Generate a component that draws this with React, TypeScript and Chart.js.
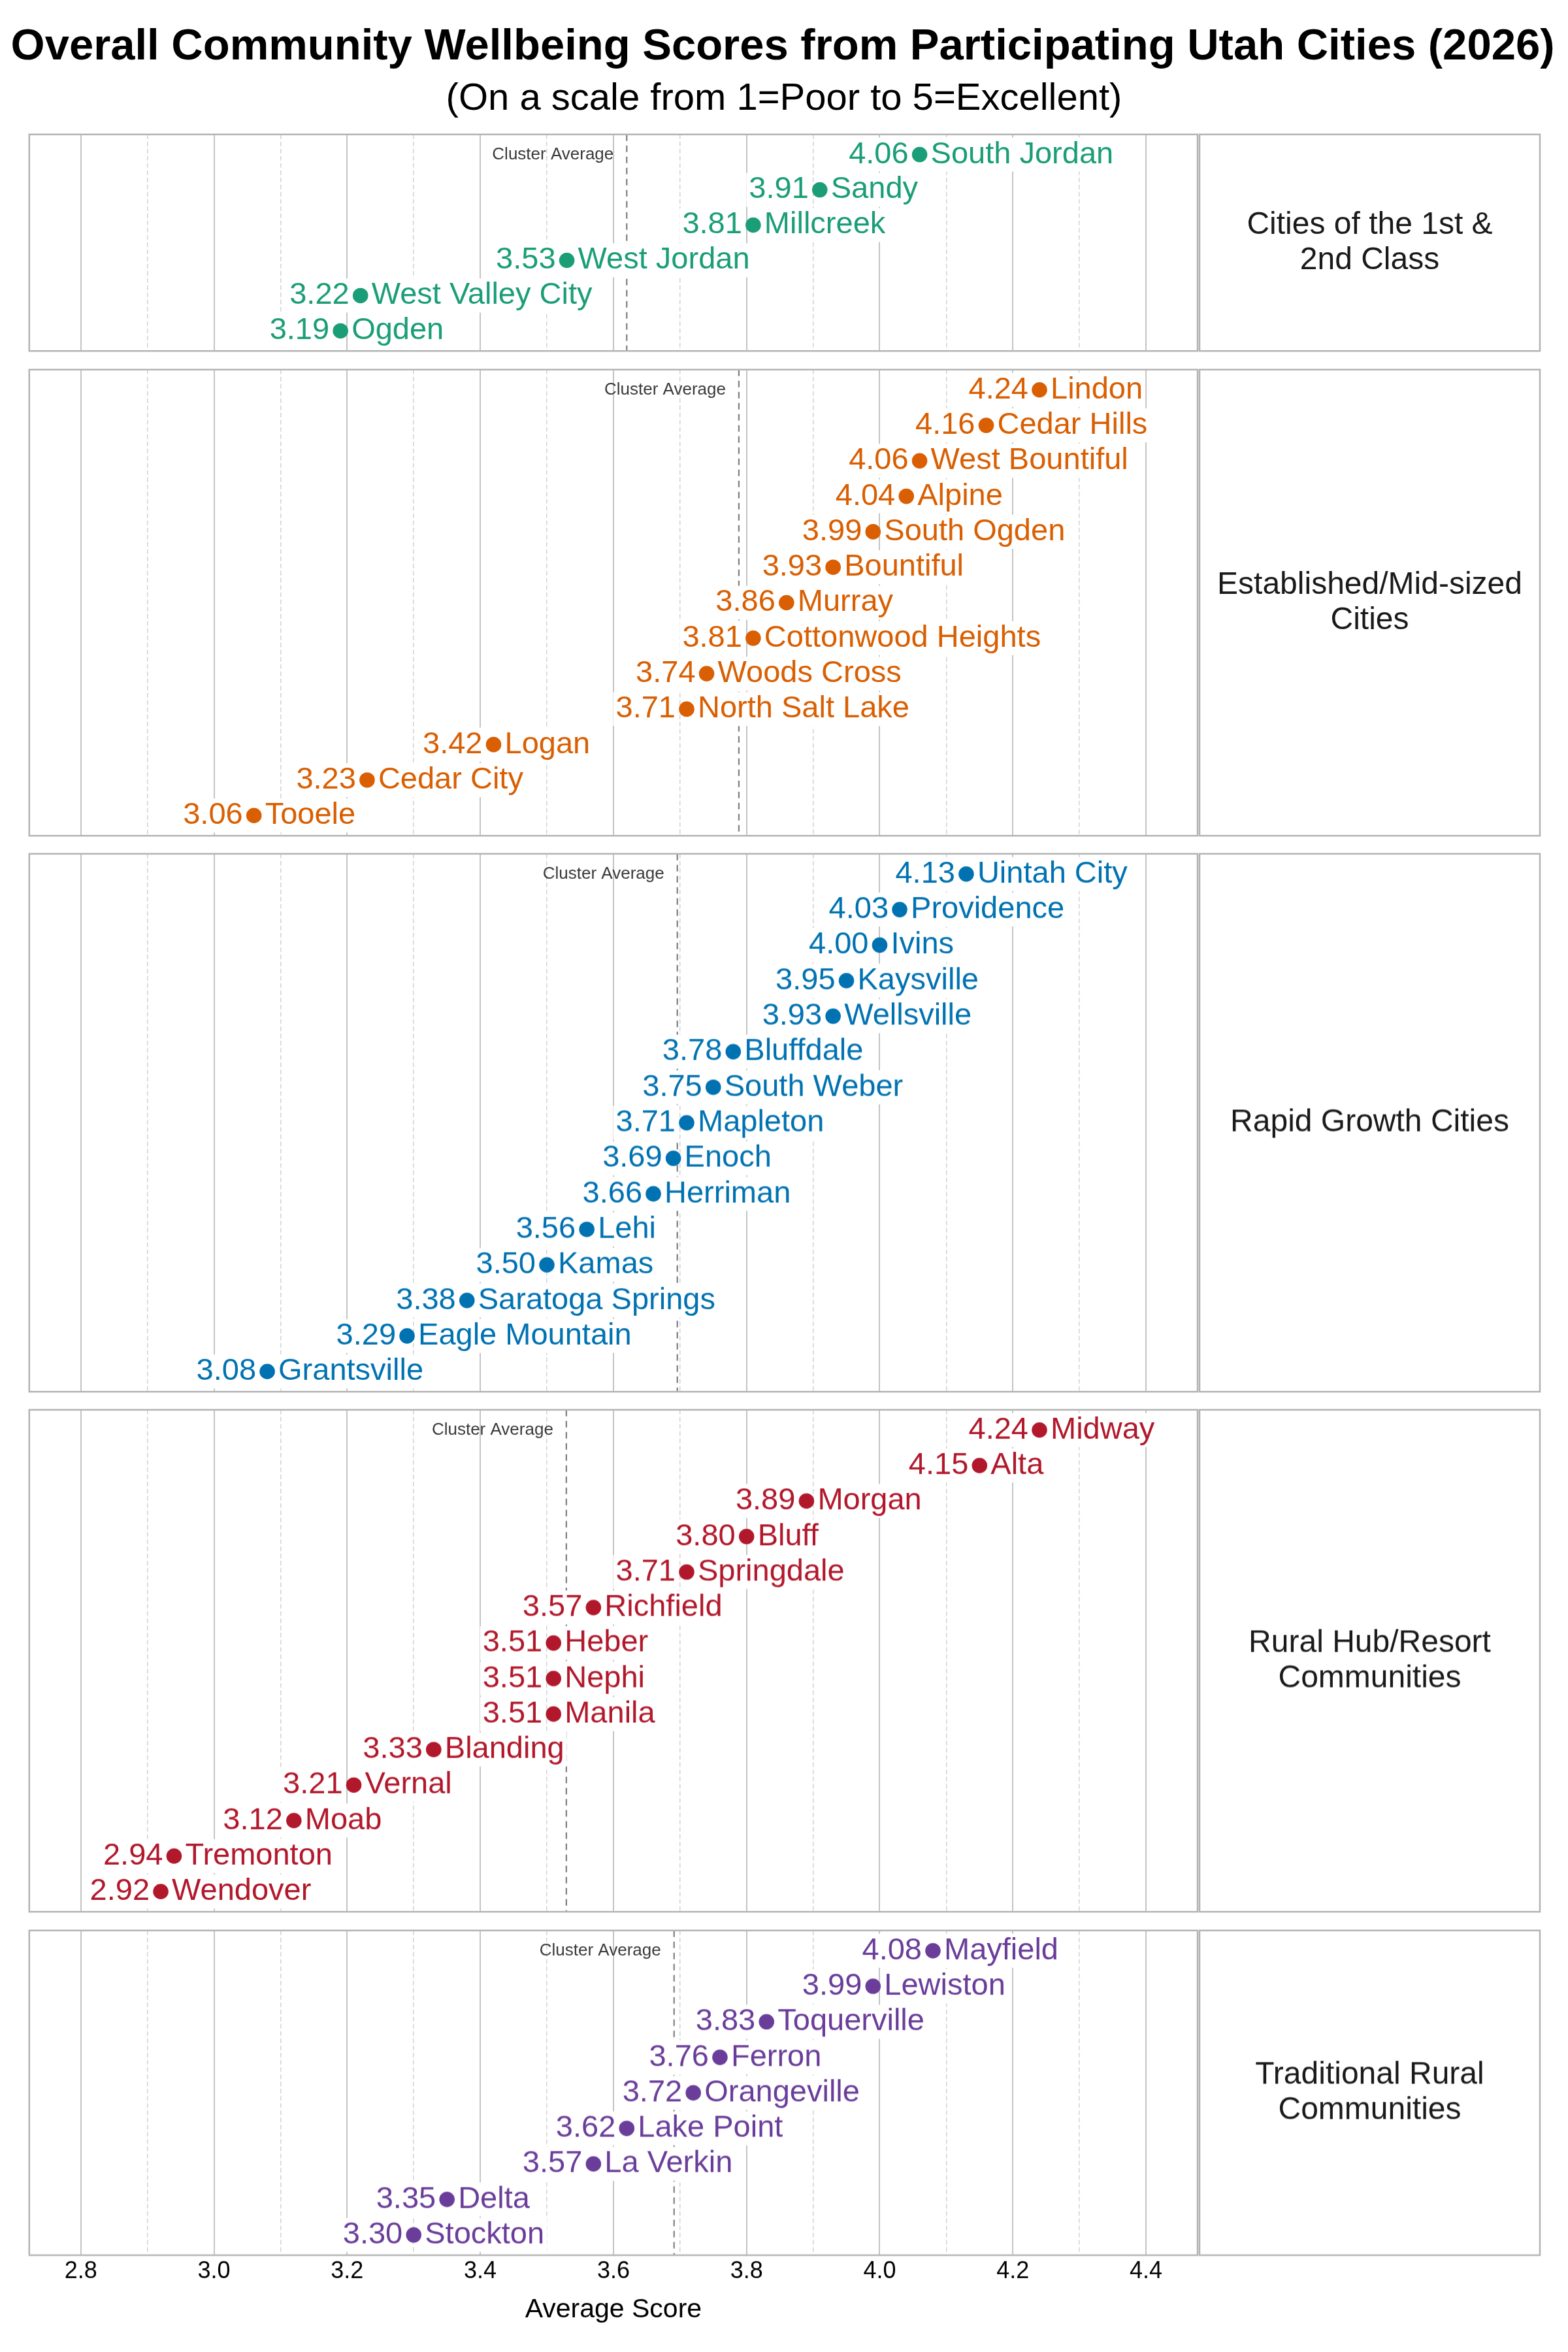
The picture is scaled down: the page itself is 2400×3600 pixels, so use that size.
import React, { useEffect, useRef } from "react";
import { Chart, registerables } from "chart.js";

Chart.register(...registerables);

const FONT = "'Liberation Sans', Arial, Helvetica, sans-serif";

// ---------- data ----------
const titleText = "Overall Community Wellbeing Scores from Participating Utah Cities (2026)";
const subtitleText = "(On a scale from 1=Poor to 5=Excellent)";
const xAxisTitle = "Average Score";
const avgLabel = "Cluster Average";

const clusterLabels = [
  "Cities of the 1st &\n2nd Class",
  "Established/Mid-sized\nCities",
  "Rapid Growth Cities",
  "Rural Hub/Resort\nCommunities",
  "Traditional Rural\nCommunities",
];
const clusterColors = ["#1b9e77", "#d95f02", "#0072b2", "#b2182b", "#6a3d9a"];

const firstClassCities = ["South Jordan", "Sandy", "Millcreek", "West Jordan", "West Valley City", "Ogden"];
const firstClassScores = [4.06, 3.91, 3.81, 3.53, 3.22, 3.19];

const establishedCities = [
  "Lindon", "Cedar Hills", "West Bountiful", "Alpine", "South Ogden", "Bountiful", "Murray",
  "Cottonwood Heights", "Woods Cross", "North Salt Lake", "Logan", "Cedar City", "Tooele",
];
const establishedScores = [4.24, 4.16, 4.06, 4.04, 3.99, 3.93, 3.86, 3.81, 3.74, 3.71, 3.42, 3.23, 3.06];

const rapidCities = [
  "Uintah City", "Providence", "Ivins", "Kaysville", "Wellsville", "Bluffdale", "South Weber",
  "Mapleton", "Enoch", "Herriman", "Lehi", "Kamas", "Saratoga Springs", "Eagle Mountain", "Grantsville",
];
const rapidScores = [4.13, 4.03, 4.0, 3.95, 3.93, 3.78, 3.75, 3.71, 3.69, 3.66, 3.56, 3.5, 3.38, 3.29, 3.08];

const ruralHubCities = [
  "Midway", "Alta", "Morgan", "Bluff", "Springdale", "Richfield", "Heber", "Nephi", "Manila",
  "Blanding", "Vernal", "Moab", "Tremonton", "Wendover",
];
const ruralHubScores = [4.24, 4.15, 3.89, 3.8, 3.71, 3.57, 3.51, 3.51, 3.51, 3.33, 3.21, 3.12, 2.94, 2.92];

const traditionalCities = [
  "Mayfield", "Lewiston", "Toquerville", "Ferron", "Orangeville", "Lake Point", "La Verkin", "Delta", "Stockton",
];
const traditionalScores = [4.08, 3.99, 3.83, 3.76, 3.72, 3.62, 3.57, 3.35, 3.3];

const clusterCities = [firstClassCities, establishedCities, rapidCities, ruralHubCities, traditionalCities];
const clusterScores = [firstClassScores, establishedScores, rapidScores, ruralHubScores, traditionalScores];

const X_MIN = 2.7225;
const X_MAX = 4.4775;
const Y_EXPAND = 0.57;

// ---------- layout ----------
const CANVAS_LEFT = 33;
const PAD = 10;
const CANVAS_W = 2334;
const STRIP_GAP = 3;
const STRIP_W = 521;
const FIRST_TOP = 204;
const UNIT = 54.59;
const GAP = 24.5;
const BOTTOM_AXIS_H = 138;

const isMajor = (v: number) => Math.abs(Math.round(v * 10)) % 2 === 0;

function panelGeometry() {
  const out: { top: number; height: number }[] = [];
  let top = FIRST_TOP;
  for (let i = 0; i < clusterCities.length; i++) {
    const h = (clusterCities[i].length - 1 + 2 * Y_EXPAND) * UNIT;
    out.push({ top, height: h });
    top += h + GAP;
  }
  return out;
}

function Panel({ idx, top, height, isLast }: { idx: number; top: number; height: number; isLast: boolean }) {
  const ref = useRef<HTMLCanvasElement>(null);
  const canvasH = isLast ? height + PAD + BOTTOM_AXIS_H : height + 2 * PAD;

  useEffect(() => {
    const cities = clusterCities[idx];
    const scores = clusterScores[idx];
    const color = clusterColors[idx];
    const n = cities.length;
    const avg = scores.reduce((a, b) => a + b, 0) / n;

    const overlay = {
      id: "overlay" + idx,
      beforeDatasetsDraw(chart: any) {
        const { ctx, chartArea } = chart;
        const xs = chart.scales.x;
        const ys = chart.scales.y;
        ctx.save();
        // average line
        const ax = xs.getPixelForValue(avg);
        ctx.strokeStyle = "#7f7f7f";
        ctx.lineWidth = 2.2;
        ctx.setLineDash([10, 7]);
        ctx.beginPath();
        ctx.moveTo(ax, chartArea.top);
        ctx.lineTo(ax, chartArea.bottom);
        ctx.stroke();
        ctx.setLineDash([]);
        // cluster average label
        ctx.font = `26px ${FONT}`;
        ctx.fillStyle = "#3a3a3a";
        ctx.textAlign = "right";
        ctx.textBaseline = "middle";
        ctx.fillText(avgLabel, ax - 20, ys.getPixelForValue(0));
        // point labels
        ctx.font = `47px ${FONT}`;
        const meta = chart.getDatasetMeta(0);
        const off = 17;
        const pad = 4;
        const bh = 52;
        for (let i = 0; i < n; i++) {
          const el = meta.data[i];
          const px = el.x;
          const py = el.y;
          const num = scores[i].toFixed(2);
          const wNum = ctx.measureText(num).width;
          const wName = ctx.measureText(cities[i]).width;
          ctx.fillStyle = "#ffffff";
          ctx.fillRect(px - off - wNum - pad, py - bh / 2, wNum + 2 * pad, bh);
          ctx.fillRect(px + off - pad, py - bh / 2, wName + 2 * pad, bh);
          ctx.fillStyle = color;
          ctx.textAlign = "right";
          ctx.fillText(num, px - off, py);
          ctx.textAlign = "left";
          ctx.fillText(cities[i], px + off, py);
        }
        ctx.restore();
      },
      afterDraw(chart: any) {
        const { ctx, chartArea } = chart;
        ctx.save();
        ctx.strokeStyle = "#b3b3b3";
        ctx.lineWidth = 2.5;
        ctx.strokeRect(chartArea.left, chartArea.top, chartArea.right - chartArea.left, chartArea.bottom - chartArea.top);
        const sx = chartArea.right + STRIP_GAP;
        ctx.strokeRect(sx, chartArea.top, STRIP_W, chartArea.bottom - chartArea.top);
        const lines = clusterLabels[idx].split("\n");
        const lh = 54;
        const cy = (chartArea.top + chartArea.bottom) / 2;
        ctx.fillStyle = "#1a1a1a";
        ctx.font = `48px ${FONT}`;
        ctx.textAlign = "center";
        ctx.textBaseline = "middle";
        lines.forEach((ln, k) => {
          ctx.fillText(ln, sx + STRIP_W / 2, cy + (k - (lines.length - 1) / 2) * lh);
        });
        ctx.restore();
      },
    };

    const chart = new Chart(ref.current as HTMLCanvasElement, {
      type: "scatter",
      data: {
        datasets: [
          {
            data: scores.map((s, i) => ({ x: s, y: i })),
            backgroundColor: color,
            borderWidth: 0,
            pointRadius: 11.8,
            pointHoverRadius: 11.8,
          },
        ],
      },
      options: {
        responsive: false,
        animation: false,
        devicePixelRatio: 1,
        events: [],
        layout: {
          padding: { left: PAD, right: PAD + STRIP_GAP + STRIP_W, top: PAD, bottom: isLast ? 0 : PAD },
        },
        plugins: {
          legend: { display: false },
          tooltip: { enabled: false },
          title: { display: false },
        },
        scales: {
          x: {
            type: "linear",
            min: X_MIN,
            max: X_MAX,
            display: true,
            afterFit: (s: any) => {
              s.height = isLast ? BOTTOM_AXIS_H : 0;
            },
            ticks: {
              display: isLast,
              stepSize: 0.1,
              includeBounds: false,
              autoSkip: false,
              maxRotation: 0,
              padding: 3,
              color: "#000000",
              font: { family: FONT, size: 36 },
              callback: (v: any) => (isMajor(Number(v)) ? Number(v).toFixed(1) : ""),
            },
            grid: {
              drawTicks: false,
              color: (c: any) => (c.tick && !isMajor(c.tick.value) ? "#d2d2d2" : "#c4c4c4"),
              lineWidth: (c: any) => (c.tick && !isMajor(c.tick.value) ? 1.5 : 2),
            },
            border: {
              display: false,
              dash: (c: any) => (c.tick && !isMajor(c.tick.value) ? [7, 4] : []),
            },
            title: {
              display: isLast,
              text: xAxisTitle,
              color: "#000000",
              font: { family: FONT, size: 41 },
              padding: { top: 0, bottom: 30 },
            },
          } as any,
          y: {
            type: "linear",
            min: -Y_EXPAND,
            max: n - 1 + Y_EXPAND,
            reverse: true,
            display: false,
          },
        },
      },
      plugins: [overlay as any],
    });
    return () => chart.destroy();
  }, [idx, isLast]);

  return (
    <canvas
      ref={ref}
      width={CANVAS_W}
      height={canvasH}
      style={{ position: "absolute", left: CANVAS_LEFT, top: top - PAD, width: CANVAS_W, height: canvasH }}
    />
  );
}

export default function App() {
  useEffect(() => {
    document.body.style.margin = "0";
    document.body.style.background = "#ffffff";
  }, []);
  const geo = panelGeometry();
  return (
    <div style={{ position: "relative", width: 2400, height: 3600, background: "#ffffff", overflow: "hidden" }}>
      <div
        style={{
          position: "absolute",
          left: 0,
          top: 34,
          width: 2396,
          textAlign: "center",
          fontFamily: FONT,
          fontWeight: "bold",
          fontSize: 67,
          lineHeight: "67px",
          color: "#000000",
          whiteSpace: "nowrap",
        }}
      >
        {titleText}
      </div>
      <div
        style={{
          position: "absolute",
          left: 0,
          top: 119,
          width: 2400,
          textAlign: "center",
          fontFamily: FONT,
          fontSize: 58,
          lineHeight: "58px",
          color: "#000000",
          whiteSpace: "nowrap",
        }}
      >
        {subtitleText}
      </div>
      {geo.map((g, i) => (
        <Panel key={i} idx={i} top={g.top} height={g.height} isLast={i === geo.length - 1} />
      ))}
    </div>
  );
}
